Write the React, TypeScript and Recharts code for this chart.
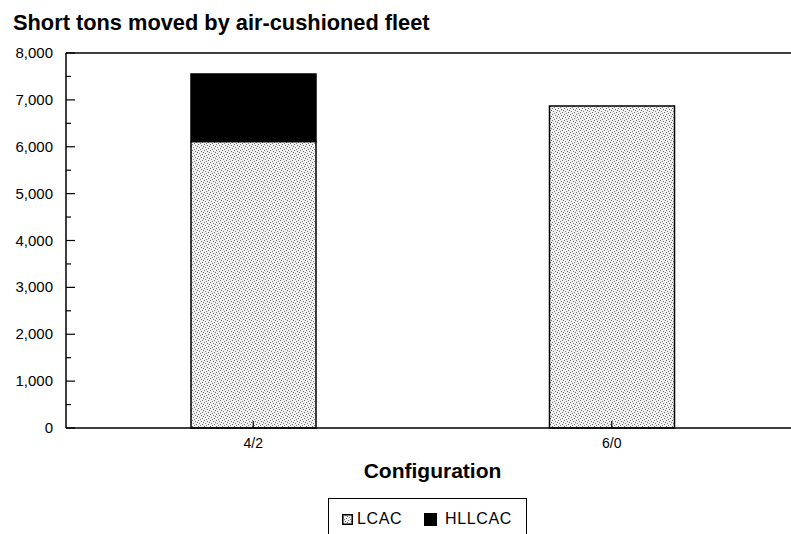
import { BarChart, Bar, XAxis, YAxis, Legend, ReferenceLine } from "recharts";

const categories = ["4/2", "6/0"];
const lcacTons = [6110, 6870];
const hllcacTons = [1440, 0];
const yTicks = [0, 500, 1000, 1500, 2000, 2500, 3000, 3500, 4000, 4500, 5000, 5500, 6000, 6500, 7000, 7500, 8000];

const data = categories.map((c, i) => ({ config: c, LCAC: lcacTons[i], HLLCAC: hllcacTons[i] }));

const FONT = "Arial, 'Liberation Sans', Helvetica, sans-serif";

function YTick({ x, y, payload }: any) {
  const major = payload.value % 1000 === 0;
  return (
    <g>
      <line x1={x} x2={x + (major ? 9 : 5)} y1={y} y2={y} stroke="#000" strokeWidth={1.2} />
      {major && (
        <text x={x - 13} y={y} dy={5} textAnchor="end" fontSize={15} fill="#000" fontFamily={FONT}>
          {payload.value.toLocaleString("en-US")}
        </text>
      )}
    </g>
  );
}

function XTick({ x, y, payload }: any) {
  return (
    <g>
      <line x1={x} x2={x} y1={y} y2={y - 7} stroke="#000" strokeWidth={1.2} />
      <text x={x} y={y + 20} textAnchor="middle" fontSize={14} fill="#000" fontFamily={FONT}>
        {payload.value}
      </text>
    </g>
  );
}

function Stipple({ size }: { size: number }) {
  return (
    <svg width={size} height={size} style={{ display: "block" }}>
      <rect x={0.75} y={0.75} width={size - 1.5} height={size - 1.5} fill="url(#stipple)" stroke="#000" strokeWidth={1.5} />
    </svg>
  );
}

function LegendBox() {
  return (
    <div
      style={{
        width: 199,
        height: 40,
        boxSizing: "border-box",
        border: "1.5px solid #000",
        display: "flex",
        alignItems: "center",
        paddingLeft: 13,
        paddingTop: 2,
        fontFamily: FONT,
        fontSize: 16,
        letterSpacing: 0.6,
        color: "#000",
      }}
    >
      <Stipple size={11} />
      <span style={{ marginLeft: 4 }}>LCAC</span>
      <div style={{ width: 13, height: 13, background: "#000", marginLeft: 22 }} />
      <span style={{ marginLeft: 8 }}>HLLCAC</span>
    </div>
  );
}

export default function App() {
  return (
    <div style={{ position: "absolute", left: 0, top: 0, width: 791, height: 534, background: "#fff", overflow: "hidden" }}>
      <div
        style={{
          position: "absolute",
          left: 13,
          top: 12,
          lineHeight: "21px",
          fontSize: 21.8,
          fontWeight: "bold",
          fontFamily: FONT,
          color: "#000",
          zIndex: 2,
        }}
      >
        Short tons moved by air-cushioned fleet
      </div>
      <BarChart width={791} height={534} data={data} margin={{ top: 53, right: 0, left: 0, bottom: 0 }} barSize={125}>
        <defs>
          <pattern id="stipple" width={6} height={6} patternUnits="userSpaceOnUse">
            <rect width={6} height={6} fill="#f0f0f0" />
            <rect x={0} y={0} width={1} height={1} fill="#6a6a6a" />
            <rect x={3} y={1} width={1} height={1} fill="#6a6a6a" />
            <rect x={1} y={3} width={1} height={1} fill="#808080" />
            <rect x={4} y={4} width={1} height={1} fill="#6a6a6a" />
            <rect x={2} y={5} width={1} height={1} fill="#808080" />
            <rect x={5} y={2} width={1} height={1} fill="#6a6a6a" />
          </pattern>
        </defs>
        <YAxis
          type="number"
          domain={[0, 8000]}
          ticks={yTicks}
          interval={0}
          width={66}
          tickSize={0}
          tickMargin={0}
          tickLine={false}
          axisLine={{ stroke: "#000", strokeWidth: 1.5 }}
          tick={<YTick />}
        />
        <ReferenceLine y={8000} stroke="#000" strokeWidth={1.5} />
        <Bar dataKey="LCAC" stackId="a" fill="url(#stipple)" stroke="#000" strokeWidth={1.5} isAnimationActive={false} />
        <Bar dataKey="HLLCAC" stackId="a" fill="#000" stroke="#000" strokeWidth={1.5} isAnimationActive={false} />
        <XAxis
          dataKey="config"
          height={66}
          padding={{ left: 8, right: 0 }}
          tickSize={0}
          tickMargin={0}
          tickLine={false}
          axisLine={{ stroke: "#000", strokeWidth: 1.5 }}
          tick={<XTick />}
          label={{
            content: (props: any) => {
              const vb = props.viewBox || {};
              return (
                <text
                  x={vb.x + vb.width / 2 + 4}
                  y={vb.y + 50}
                  textAnchor="middle"
                  fontSize={21}
                  fontWeight="bold"
                  fill="#000"
                  fontFamily={FONT}
                >
                  Configuration
                </text>
              );
            },
          }}
        />
        <Legend verticalAlign="bottom" wrapperStyle={{ left: 328, top: 498, width: 199 }} content={() => <LegendBox />} />
      </BarChart>
    </div>
  );
}
